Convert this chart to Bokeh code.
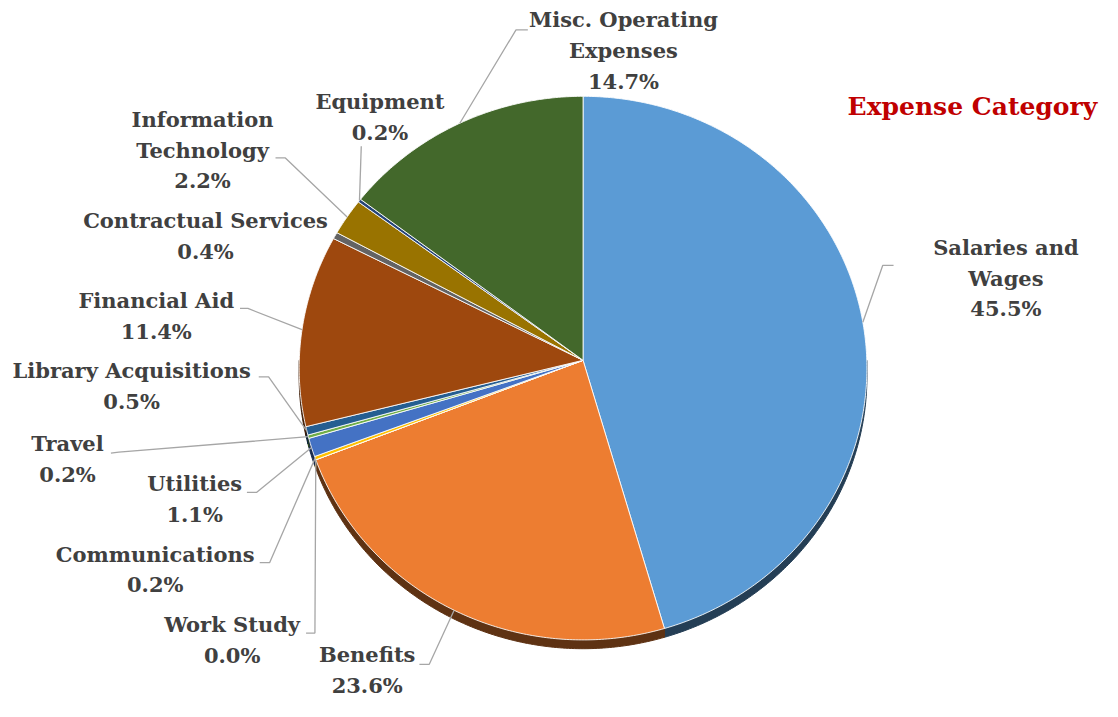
import numpy as np
from bokeh.plotting import figure
from bokeh.models import Range1d, ColumnDataSource
from bokeh.embed import file_html
from bokeh.resources import INLINE
from bokeh.core.properties import value

# ---------------- data ----------------
categories = ["Salaries and Wages", "Benefits", "Work Study", "Communications",
              "Utilities", "Travel", "Library Acquisitions", "Financial Aid",
              "Contractual Services", "Information Technology", "Equipment",
              "Misc. Operating Expenses"]
percents = [45.5, 23.6, 0.0, 0.2, 1.1, 0.2, 0.5, 11.4, 0.4, 2.2, 0.2, 14.7]
colors = ["#5B9BD5", "#ED7D31", "#A5A5A5", "#FFC000", "#4472C4", "#70AD47",
          "#255E91", "#9E480E", "#636363", "#997300", "#264478", "#43682B"]
label_lines = [["Salaries and", "Wages"], ["Benefits"], ["Work Study"],
               ["Communications"], ["Utilities"], ["Travel"],
               ["Library Acquisitions"], ["Financial Aid"],
               ["Contractual Services"], ["Information", "Technology"],
               ["Equipment"], ["Misc. Operating", "Expenses"]]
title_text = "Expense Category"

# ---------------- layout ----------------
CX, CY_APEX, CY_ELL, RX, RY, DEPTH = 591.0, 368.0, 376.0, 288.0, 278.0, 9.0
FONT = "DejaVu Serif"
FSIZE = 21
PITCH = 31.5
label_pos = [(1020, 284), (372, 685), (235, 654), (157, 582), (197, 510),
             (68, 469), (133, 394), (158, 323), (208, 241), (205, 153),
             (385, 119), (632, 51)]
stubs = [[(906, 271), (895, 271)], [(425, 679), (435, 679)],
         [(310, 647), (319, 647)], [(263, 575), (273, 575)],
         [(250, 503), (260, 503)], [(112, 463), (120, 462)],
         [(262, 385), (272, 385)], [(243, 315), (251, 315)], None,
         [(279, 161), (289, 161)], [(366, 149)], [(535, 30), (523, 30)]]


def rim(theta):
    """Point on the tilted pie's rim for angle theta (clockwise from top)."""
    theta = np.asarray(theta, dtype=float)
    dx = RX * np.sin(theta)
    dy = RY * np.cos(theta)
    off = CY_APEX - CY_ELL
    a = (dx / RX) ** 2 + (dy / RY) ** 2
    b = 2 * (-dy) * off / RY ** 2
    c = (off / RY) ** 2 - 1
    t = (-b + np.sqrt(b * b - 4 * a * c)) / (2 * a)
    return CX + t * dx, CY_APEX - t * dy


def darker(hexcol, f=0.4):
    h = hexcol.lstrip("#")
    r, g, b = (int(h[i:i + 2], 16) for i in (0, 2, 4))
    return "#%02x%02x%02x" % (int(r * f), int(g * f), int(b * f))


vals = np.array(percents, dtype=float)
fr = vals / vals.sum()
ends = np.cumsum(fr) * 2 * np.pi
starts = ends - fr * 2 * np.pi

p = figure(width=1102, height=701, output_backend="svg", toolbar_location=None,
           x_range=Range1d(0, 1118), y_range=Range1d(717, 0), min_border=0,
           outline_line_color=None, background_fill_color="white",
           border_fill_color="white")
p.axis.visible = False
p.grid.visible = False

# side (depth) of the pie, visible on the lower half
sx, sy, sc = [], [], []
for s, e, col in zip(starts, ends, colors):
    lo, hi = max(s, np.pi / 2), min(e, 3 * np.pi / 2)
    if hi <= lo:
        continue
    th = np.linspace(lo, hi, max(3, int((hi - lo) / 0.01)))
    ax, ay = rim(th)
    sx.append(list(ax) + list(ax[::-1]))
    sy.append(list(ay) + list(ay[::-1] + DEPTH))
    sc.append(darker(col))
p.patches(sx, sy, fill_color=sc, line_color=sc, line_width=1)

# top face slices
px, py = [], []
for s, e in zip(starts, ends):
    th = np.linspace(s, e, max(2, int((e - s) / 0.01) + 2))
    ax, ay = rim(th)
    px.append([CX] + list(ax))
    py.append([CY_APEX] + list(ay))
p.patches(px, py, fill_color=colors, line_color="white", line_width=1,
          line_alpha=0.85)

# leader lines
mids = (starts + ends) / 2
ancx, ancy = rim(mids)
lx, ly = [], []
for i, st in enumerate(stubs):
    if st is None:
        continue
    pts = list(st) + [(ancx[i], ancy[i])]
    lx.append([q[0] for q in pts])
    ly.append([q[1] for q in pts])
p.multi_line(lx, ly, line_color="#A6A6A6", line_width=1.3)

# labels
tx, ty, tt = [], [], []
for i, lines in enumerate(label_lines):
    allines = lines + ["%.1f%%" % percents[i]]
    n = len(allines)
    cx, cy = label_pos[i]
    for j, ln in enumerate(allines):
        tx.append(cx)
        ty.append(cy + (j - (n - 1) / 2) * PITCH)
        tt.append(ln)
src = ColumnDataSource(dict(x=tx, y=ty, text=tt))
p.text("x", "y", text="text", source=src, text_font=value(FONT),
       text_font_size="%dpx" % FSIZE, text_font_style="bold",
       text_color="#404040", text_align="center", text_baseline="middle")

p.text([986], [108], text=[title_text], text_font=value(FONT),
       text_font_size="25px", text_font_style="bold", text_color="#C00000",
       text_align="center", text_baseline="middle")

open("out.html", "w").write(file_html(p, INLINE))
